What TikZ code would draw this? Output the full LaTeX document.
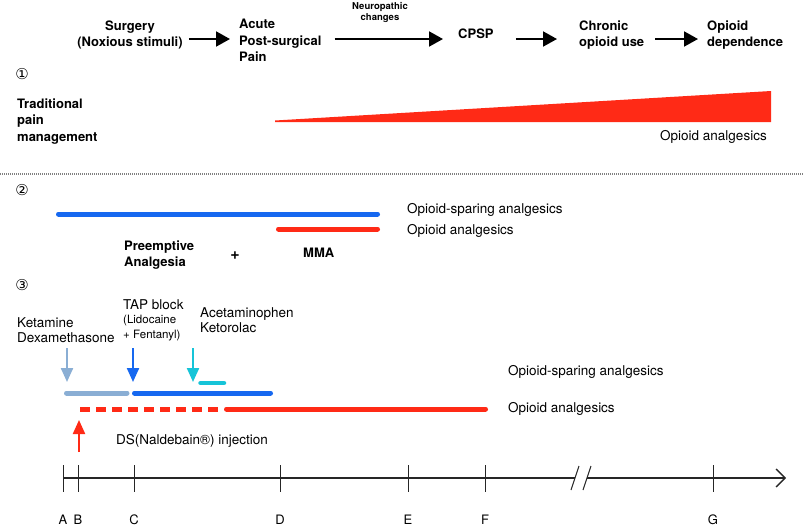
\documentclass[tikz,border=0pt]{standalone}
\usepackage{fontspec}
\setmainfont{TeX Gyre Heros}
\newfontfamily\circfont{DejaVu Sans}
\usetikzlibrary{arrows.meta, positioning}
\definecolor{xred}{RGB}{255,42,22}
\definecolor{xblue}{RGB}{22,104,240}
\definecolor{xsteel}{RGB}{138,174,212}
\definecolor{xcyan}{RGB}{22,196,216}
\tikzset{
	flow/.style={line width=2pt, -{Triangle[length=14pt, width=15pt]}},
	drug/.style={line width=2.2pt, -{Triangle[length=14pt, width=12pt]}},
	bar/.style={line width=5pt, line cap=round},
	stage/.style={font=\fontsize{13}{16.5}\selectfont\bfseries, align=left, inner sep=0pt},
	lbl/.style={font=\fontsize{13.5}{15.5}\selectfont, align=left, anchor=west, inner sep=0pt},
	num/.style={font=\circfont\fontsize{15}{15}\selectfont, inner sep=0pt},
	axistick/.style={line width=1pt, black!85},
}

\begin{document}
\begin{tikzpicture}[x=1pt, y=-1pt]
	\useasboundingbox (0,0) rectangle (803,528);

	% course of pain
	\node[stage, align=center] (surg) at (130,35) {Surgery\\(Noxious stimuli)};
	\node[stage, anchor=west] (acute) at (239,40.5) {Acute\\Post-surgical\\Pain};
	\node[stage, anchor=west] (cpsp) at (458,34) {CPSP};
	\node[stage, anchor=west] (chronic) at (579,35) {Chronic\\opioid use};
	\node[stage, anchor=west] (depend) at (707,35) {Opioid\\dependence};
	\node[stage, align=center, font=\fontsize{9.5}{11}\selectfont\bfseries] (neuro) at (380,12) {Neuropathic\\changes};
	\coordinate (lvl) at (0,39);

	\draw[flow, shorten <=6pt, shorten >=9pt] (surg.east |- lvl) -- (acute.west |- lvl);
	\draw[flow, shorten <=13pt, shorten >=15pt] (acute.east |- lvl) -- (cpsp.west |- lvl);
	\draw[flow, shorten <=22pt, shorten >=22pt] (cpsp.east |- lvl) -- (chronic.west |- lvl);
	\draw[flow, shorten <=11pt, shorten >=9pt] (chronic.east |- lvl) -- (depend.west |- lvl);

	% 1
	\node[num] (n1) at (22,74) {①};
	\node[stage, anchor=west] (trad) at (17,121.5) {Traditional\\pain\\management};
	\fill[xred] (275,120.5) -- (771,91) -- (771,122) -- (275,122) -- cycle;
	\node[lbl] (opi1) at (660,137) {Opioid analgesics};

	\draw[gray, line width=1.2pt, dash pattern=on 1pt off 1pt] (0,174) -- (803,174);

	% 2
	\node[num] (n2) at (22,190) {②};
	\draw[bar, xblue] (58.5,214) -- (377.5,214);
	\draw[bar, xred] (278.5,229) -- (377.5,229);
	\node[lbl] (spar2) at (407,210) {Opioid-sparing analgesics};
	\node[lbl] (opi2) at (407,231) {Opioid analgesics};
	\node[stage, anchor=west] (pre) at (124,255) {Preemptive\\Analgesia};
	\node[stage, font=\fontsize{16}{16}\selectfont\bfseries] (plus) at (235,256) {+};
	\node[stage, anchor=west] (mma) at (303,253) {MMA};

	% 3
	\node[num] (n3) at (22,285) {③};
	\node[lbl] (ketdex) at (17,330) {Ketamine\\Dexamethasone};
	\node[lbl] (tap) at (123,305) {TAP block};
	\node[lbl, font=\fontsize{11.5}{15}\selectfont, below right=5pt and 0pt of tap.south west] (tapdrug) {(Lidocaine\\+ Fentanyl)};
	\node[lbl] (acet) at (200,320) {Acetaminophen\\Ketorolac};

	\coordinate (k0) at (67,348);
	\coordinate (k1) at (67,382);
	\coordinate (t0) at (133,348);
	\coordinate (t1) at (133,382);
	\coordinate (a0) at (193,348);
	\coordinate (a1) at (193,382);
	\draw[drug, xsteel] (k0) -- (k1);
	\draw[drug, xblue] (t0) -- (t1);
	\draw[drug, xcyan] (a0) -- (a1);

	\draw[bar, xcyan, line width=4.5pt] (200.5,383) -- (224,383);
	\draw[bar, xsteel] (66.5,393) -- (127,393);
	\draw[bar, xblue] (134.5,393) -- (270.5,393);
	\draw[xred, line width=5pt, dash pattern=on 10pt off 6pt] (80,409) -- (220,409);
	\draw[bar, xred] (226.5,409) -- (485.5,409);
	\node[lbl] (spar3) at (508,372) {Opioid-sparing analgesics};
	\node[lbl] (opi3) at (508,409) {Opioid analgesics};

	\coordinate (ds0) at (79,452);
	\coordinate (ds1) at (79,420);
	\draw[drug, xred] (ds0) -- (ds1);
	\node[lbl] (inj) at (116,441) {DS(Naldebain®) injection};

	% time axis
	\coordinate (ax0) at (63,478);
	\coordinate (axb) at (575,478);
	\coordinate (axc) at (587,478);
	\coordinate (ax1) at (786,478);
	\draw[line width=1.3pt, black!85] (ax0) -- (axb);
	\draw[line width=1.3pt, black!85, -{Straight Barb[length=9pt, width=18pt]}] (axc) -- (ax1);
	\draw[axistick] (571,490) -- (579,466);
	\draw[axistick] (583,490) -- (591,466);
	\foreach \x/\t in {63/A, 78/B, 134/C, 280/D, 408/E, 485/F, 713/G} {
		\draw[axistick] (\x,465) -- (\x,492);
		\node[font=\fontsize{13}{13}\selectfont] (lab\t) at (\x,520) {\t};
	}
\end{tikzpicture}
\end{document}
